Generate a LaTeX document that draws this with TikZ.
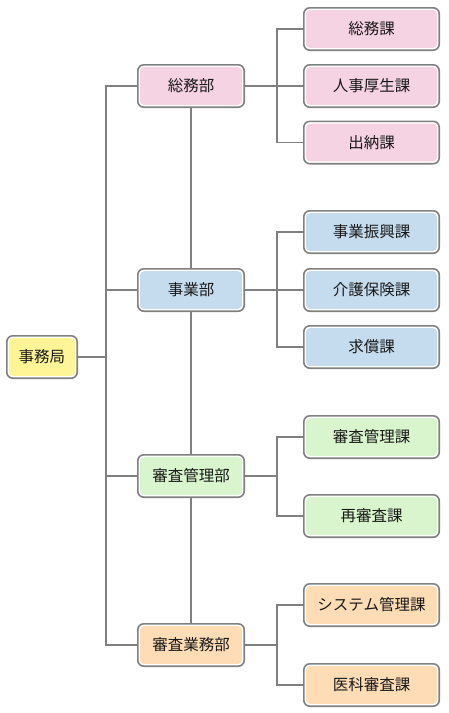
\documentclass[tikz,border=0pt]{standalone}
\usepackage{fontspec}
\setmainfont{Noto Sans CJK JP}
\definecolor{linegray}{RGB}{128,128,128}
\definecolor{pinkfill}{RGB}{245,211,226}
\definecolor{bluefill}{RGB}{197,220,238}
\definecolor{greenfill}{RGB}{217,245,205}
\definecolor{orangefill}{RGB}{254,220,182}
\definecolor{yellowfill}{RGB}{255,245,150}
\begin{document}
\begin{tikzpicture}[y=-1pt, x=1pt,
    box/.style={draw=linegray, line width=1.6pt, fill=white, rounded corners=6pt,
      minimum height=42.4pt, inner sep=0pt, text=black!90,
      font=\fontsize{15.5pt}{18pt}\selectfont,
      path picture={\fill[#1, rounded corners=4pt]
        ([shift={(2.3pt,-2.3pt)}]path picture bounding box.north west) rectangle
        ([shift={(-2.3pt,2.3pt)}]path picture bounding box.south east);}},
    topbox/.style={box=#1, minimum width=70.4pt},
    deptbox/.style={box=#1, minimum width=106.4pt},
    secbox/.style={box=#1, minimum width=135.4pt},
    conn/.style={draw=linegray, line width=1.8pt}]
    \useasboundingbox (0,0) rectangle (448,713);

    \node[topbox=yellowfill] (office) at (42,357) {事務局};

    \node[deptbox=pinkfill] (general) at (191,86) {総務部};
    \node[deptbox=bluefill] (business) at (191,290) {事業部};
    \node[deptbox=greenfill] (reviewmgmt) at (191,476) {審査管理部};
    \node[deptbox=orangefill] (reviewops) at (191,645) {審査業務部};

    \node[secbox=pinkfill] (generalsec) at (371.5,29) {総務課};
    \node[secbox=pinkfill] (personnel) at (371.5,86) {人事厚生課};
    \node[secbox=pinkfill] (cashier) at (371.5,142.5) {出納課};

    \node[secbox=bluefill] (promotion) at (371.5,232) {事業振興課};
    \node[secbox=bluefill] (insurance) at (371.5,290) {介護保険課};
    \node[secbox=bluefill] (claims) at (371.5,347) {求償課};

    \node[secbox=greenfill] (reviewsec) at (371.5,437) {審査管理課};
    \node[secbox=greenfill] (rereview) at (371.5,516) {再審査課};

    \node[secbox=orangefill] (system) at (371.5,605) {システム管理課};
    \node[secbox=orangefill] (medical) at (371.5,685) {医科審査課};

    \coordinate (trunk) at (106,357);
    \draw[conn] (office.east) -- (trunk);
    \draw[conn] (general.west) -| (trunk);
    \draw[conn] (business.west) -| (trunk);
    \draw[conn] (reviewmgmt.west) -| (trunk);
    \draw[conn] (reviewops.west) -| (trunk);

    \draw[conn] (general) -- (business);
    \draw[conn] (business) -- (reviewmgmt);
    \draw[conn] (reviewmgmt) -- (reviewops);

    \coordinate (generalfork) at (277,86);
    \draw[conn] (general.east) -- (generalfork);
    \draw[conn] (generalfork) |- (generalsec.west);
    \draw[conn] (generalfork) -- (personnel.west);
    \draw[conn] (generalfork) |- (cashier.west);

    \coordinate (businessfork) at (277,290);
    \draw[conn] (business.east) -- (businessfork);
    \draw[conn] (businessfork) |- (promotion.west);
    \draw[conn] (businessfork) -- (insurance.west);
    \draw[conn] (businessfork) |- (claims.west);

    \coordinate (reviewmgmtfork) at (277,476);
    \draw[conn] (reviewmgmt.east) -- (reviewmgmtfork);
    \draw[conn] (reviewmgmtfork) |- (reviewsec.west);
    \draw[conn] (reviewmgmtfork) |- (rereview.west);

    \coordinate (reviewopsfork) at (277,645);
    \draw[conn] (reviewops.east) -- (reviewopsfork);
    \draw[conn] (reviewopsfork) |- (system.west);
    \draw[conn] (reviewopsfork) |- (medical.west);

  \end{tikzpicture}
\end{document}
